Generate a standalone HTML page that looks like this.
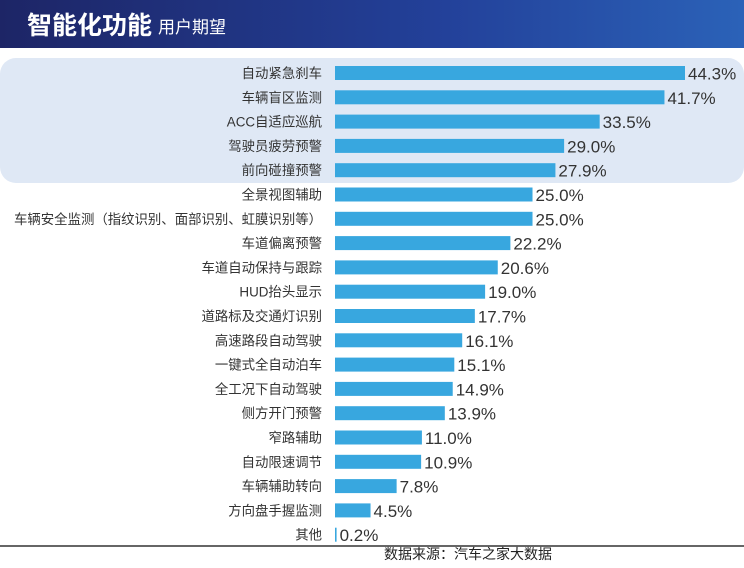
<!DOCTYPE html>
<html><head><meta charset="utf-8">
<style>
body{margin:0;width:744px;height:563px;overflow:hidden;background:#fff;font-family:"Liberation Sans","Noto Sans CJK SC",sans-serif;}
</style></head>
<body>
<svg id="chart" width="744" height="563" xmlns="http://www.w3.org/2000/svg">
<defs><linearGradient id="hg" x1="0" x2="1" y1="0" y2="0"><stop offset="0" stop-color="#1d2566"/><stop offset="0.6" stop-color="#23419a"/><stop offset="1" stop-color="#2b62b8"/></linearGradient></defs>
<rect x="0" y="0" width="744" height="48" fill="url(#hg)"/>
<text x="27" y="34" fill="#fff" font-size="25" font-weight="bold" font-family="Liberation Sans, Noto Sans CJK SC, sans-serif">智能化功能</text>
<text x="158" y="33" fill="#fff" font-size="17" font-family="Liberation Sans, Noto Sans CJK SC, sans-serif">用户期望</text>
<rect x="0" y="58" width="744" height="125" rx="16" fill="#dfe8f5"/>
<g id="bars"></g>
<line x1="0" y1="546" x2="744" y2="546" stroke="#333" stroke-width="1.5"/>
<text x="468" y="559" text-anchor="middle" font-size="14" fill="#222" font-family="Liberation Sans, Noto Sans CJK SC, sans-serif">数据来源：汽车之家大数据</text>
</svg>
<script>
const categories=["自动紧急刹车","车辆盲区监测","ACC自适应巡航","驾驶员疲劳预警","前向碰撞预警","全景视图辅助","车辆安全监测（指纹识别、面部识别、虹膜识别等）","车道偏离预警","车道自动保持与跟踪","HUD抬头显示","道路标及交通灯识别","高速路段自动驾驶","一键式全自动泊车","全工况下自动驾驶","侧方开门预警","窄路辅助","自动限速调节","车辆辅助转向","方向盘手握监测","其他"];
const values=[44.3,41.7,33.5,29.0,27.9,25.0,25.0,22.2,20.6,19.0,17.7,16.1,15.1,14.9,13.9,11.0,10.9,7.8,4.5,0.2];
const x0=335, pxPer=350/44.3, y0=73, step=24.3, bh=14;
const xs=v=>x0+v*pxPer;
const ys=i=>y0+i*step;
const g=document.getElementById('bars');
const NS="http://www.w3.org/2000/svg";
categories.forEach((c,i)=>{
  const v=values[i], cy=ys(i);
  const lab=document.createElementNS(NS,'text');
  
  
  lab.setAttribute('x',322);lab.setAttribute('y',cy+5);lab.setAttribute('text-anchor','end');
  lab.setAttribute('font-size','13.4');lab.setAttribute('fill','#333');
  lab.setAttribute('font-family','Liberation Sans, Noto Sans CJK SC, sans-serif');
  lab.textContent=c;g.appendChild(lab);
  const r=document.createElementNS(NS,'rect');
  
  
  const w=Math.max(xs(v)-x0,1.5);
  r.setAttribute('x',x0);r.setAttribute('y',cy-bh/2);r.setAttribute('width',w);r.setAttribute('height',bh);r.setAttribute('fill','#38a7df');
  g.appendChild(r);
  const t=document.createElementNS(NS,'text');
  
  
  t.setAttribute('x',x0+w+3);t.setAttribute('y',cy+6.5);
  t.setAttribute('font-size','17');t.setAttribute('fill','#333');
  t.setAttribute('font-family','Liberation Sans, sans-serif');
  t.textContent=v.toFixed(1)+'%';g.appendChild(t);
});
</script>
</body></html>
